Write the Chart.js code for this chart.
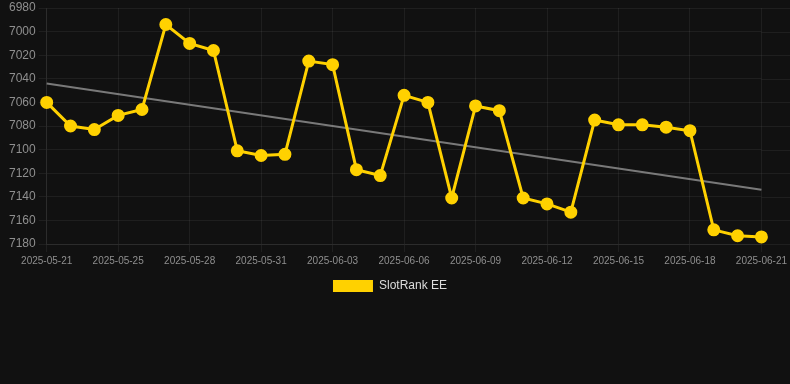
<!DOCTYPE html>
<html>
<head>
<meta charset="utf-8">
<script src="https://cdn.jsdelivr.net/npm/chart.js@4/dist/chart.umd.min.js"></script>
<style>
  html, body { margin: 0; padding: 0; background: #111111; }
  #wrap { width: 790px; height: 302px; position: relative; }
</style>
</head>
<body>
<div id="wrap"><canvas id="c"></canvas></div>
<script>
const dates = [
  '2025-05-21','2025-05-22','2025-05-23','2025-05-25','2025-05-26','2025-05-27','2025-05-28',
  '2025-05-29','2025-05-30','2025-05-31','2025-06-01','2025-06-02','2025-06-03','2025-06-04',
  '2025-06-05','2025-06-06','2025-06-07','2025-06-08','2025-06-09','2025-06-10','2025-06-11',
  '2025-06-12','2025-06-13','2025-06-14','2025-06-15','2025-06-16','2025-06-17','2025-06-18',
  '2025-06-19','2025-06-20','2025-06-21'
];
const rankValues = [
  7060, 7080, 7083, 7071, 7066, 6994, 7010, 7016, 7101, 7105, 7104,
  7025, 7028, 7117, 7122, 7054, 7060, 7141, 7063, 7067, 7141, 7146,
  7153, 7075, 7079, 7079, 7081, 7084, 7168, 7173, 7174
];
const trendStart = 7044;
const trendEnd = 7134;
const trendValues = dates.map((d, i) => i === 0 ? trendStart : (i === dates.length - 1 ? trendEnd : null));
const yTickMin = 6980;
const yTickMax = 7180;
const yTickStep = 20;
const seriesName = 'SlotRank EE';

const gridColor = 'rgba(255,255,255,0.06)';
const lineColor = '#FFD100';

const extendGrid = {
  id: 'extendGrid',
  beforeDatasetsDraw(chart) {
    const y = chart.scales.y;
    const ctx = chart.ctx;
    const area = chart.chartArea;
    ctx.save();
    ctx.strokeStyle = gridColor;
    ctx.lineWidth = 1;
    y.ticks.forEach((t, i) => {
      const py = Math.round(y.getPixelForTick(i)) + 0.5;
      ctx.beginPath();
      ctx.moveTo(area.right, py);
      ctx.lineTo(chart.width, py);
      ctx.stroke();
    });
    ctx.restore();
  }
};

new Chart(document.getElementById('c'), {
  type: 'line',
  data: {
    labels: dates,
    datasets: [
      {
        label: seriesName,
        data: rankValues,
        borderColor: lineColor,
        backgroundColor: lineColor,
        borderWidth: 3,
        pointRadius: 5,
        pointHoverRadius: 5,
        pointBackgroundColor: lineColor,
        pointBorderColor: lineColor,
        tension: 0,
        order: 1
      },
      {
        label: 'trend',
        data: trendValues,
        spanGaps: true,
        borderColor: 'rgba(140,140,140,0.85)',
        borderWidth: 2,
        pointRadius: 0,
        pointHoverRadius: 0,
        fill: false,
        order: 2
      }
    ]
  },
  options: {
    responsive: true,
    maintainAspectRatio: false,
    animation: false,
    layout: { padding: { left: 6, right: 16, top: 0 } },
    plugins: {
      legend: {
        position: 'bottom',
        labels: {
          color: '#dddddd',
          font: { size: 12, family: 'Liberation Sans, Arial, sans-serif' },
          boxWidth: 40,
          boxHeight: 12,
          generateLabels: (chart) => [{
            text: seriesName,
            fillStyle: lineColor,
            strokeStyle: lineColor,
            lineWidth: 0,
            hidden: false,
            datasetIndex: 0,
            fontColor: '#dddddd'
          }]
        }
      },
      tooltip: { enabled: false }
    },
    scales: {
      x: {
        type: 'category',
        offset: false,
        grid: {
          color: (ctx) => (ctx.index % 3 === 0 ? gridColor : 'rgba(0,0,0,0)'),
          drawTicks: true
        },
        border: { color: gridColor },
        ticks: {
          autoSkip: false,
          maxRotation: 0,
          color: '#8f8f8f',
          font: { size: 10, family: 'Liberation Sans, Arial, sans-serif' },
          callback: function(value, index) {
            return index % 3 === 0 ? this.getLabelForValue(value) : '';
          }
        }
      },
      y: {
        reverse: true,
        min: yTickMin,
        max: yTickMax,
        grid: { color: gridColor },
        border: { color: gridColor },
        ticks: {
          stepSize: yTickStep,
          color: '#8f8f8f',
          font: { size: 12, family: 'Liberation Sans, Arial, sans-serif', lineHeight: 0.6 },
          callback: (v) => String(v)
        }
      }
    }
  },
  plugins: [extendGrid]
});
</script>
</body>
</html>
